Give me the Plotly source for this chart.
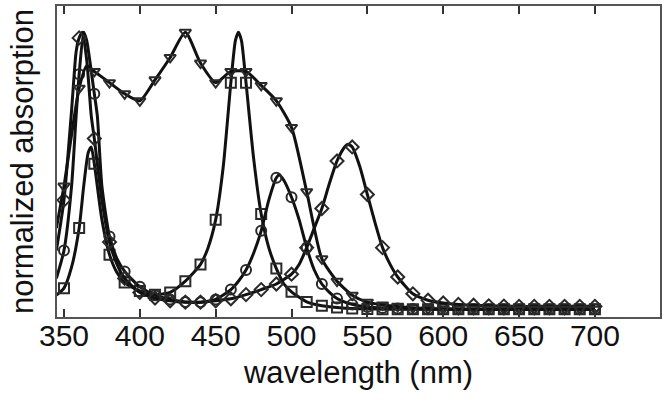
import plotly.graph_objects as go

# ---- data ----
sq_wl = [345, 350, 355, 360, 363, 366, 368, 370, 375, 380, 385, 390, 400, 410, 420, 430, 440, 445, 450, 455, 460, 463, 465, 467, 470, 475, 480, 485, 490, 495, 500, 510, 520, 530, 540, 550, 560, 570, 580, 590, 600, 610, 620, 630, 640, 650, 660, 670, 680, 690, 700]
sq_val = [0.06, 0.085, 0.16, 0.30, 0.45, 0.57, 0.59, 0.53, 0.33, 0.205, 0.14, 0.105, 0.075, 0.062, 0.07, 0.11, 0.17, 0.23, 0.33, 0.52, 0.82, 0.97, 1.0, 0.97, 0.82, 0.55, 0.35, 0.23, 0.155, 0.10, 0.072, 0.036, 0.022, 0.016, 0.012, 0.011, 0.01, 0.01, 0.01, 0.01, 0.01, 0.01, 0.01, 0.01, 0.01, 0.01, 0.01, 0.01, 0.01, 0.01, 0.01]

ci_wl = [345, 350, 355, 358, 360, 363, 365, 368, 370, 372, 375, 380, 385, 390, 400, 410, 420, 430, 440, 450, 460, 465, 470, 475, 480, 485, 490, 492, 495, 500, 505, 510, 515, 520, 525, 530, 540, 550, 560, 570, 580, 590, 600, 610, 620, 630, 640, 650, 660, 670, 680, 690, 700]
ci_val = [0.12, 0.22, 0.45, 0.70, 0.85, 1.0, 0.97, 0.86, 0.78, 0.70, 0.45, 0.27, 0.19, 0.145, 0.09, 0.06, 0.045, 0.036, 0.035, 0.045, 0.08, 0.11, 0.15, 0.21, 0.29, 0.40, 0.48, 0.49, 0.47, 0.41, 0.33, 0.23, 0.15, 0.10, 0.07, 0.048, 0.027, 0.018, 0.014, 0.012, 0.011, 0.01, 0.01, 0.01, 0.01, 0.01, 0.01, 0.01, 0.01, 0.01, 0.01, 0.01, 0.01]

di_wl = [345, 350, 355, 358, 360, 362, 365, 368, 370, 375, 380, 385, 390, 400, 410, 420, 430, 440, 450, 460, 470, 480, 490, 500, 505, 510, 515, 520, 525, 530, 535, 537, 540, 545, 550, 555, 560, 565, 570, 580, 590, 600, 610, 620, 630, 640, 650, 660, 670, 680, 690, 700]
di_val = [0.22, 0.40, 0.72, 0.93, 0.98, 1.0, 0.90, 0.70, 0.62, 0.40, 0.25, 0.17, 0.12, 0.07, 0.05, 0.04, 0.035, 0.035, 0.04, 0.047, 0.062, 0.08, 0.10, 0.135, 0.17, 0.23, 0.30, 0.37, 0.46, 0.54, 0.59, 0.60, 0.59, 0.52, 0.42, 0.32, 0.23, 0.17, 0.125, 0.065, 0.042, 0.032, 0.027, 0.024, 0.022, 0.021, 0.02, 0.02, 0.02, 0.02, 0.02, 0.02, 0.02]

tr_wl = [345, 350, 360, 365, 370, 380, 390, 400, 410, 420, 430, 440, 450, 460, 470, 480, 490, 500, 510, 520, 530, 540, 550, 560, 570, 580, 590, 600, 610, 620, 630, 640, 650, 660, 670, 680, 690, 700]
tr_val = [0.30, 0.45, 0.80, 0.88, 0.86, 0.82, 0.78, 0.755, 0.83, 0.91, 1.0, 0.89, 0.82, 0.86, 0.86, 0.81, 0.755, 0.66, 0.43, 0.19, 0.11, 0.06, 0.035, 0.025, 0.02, 0.015, 0.012, 0.011, 0.01, 0.01, 0.01, 0.01, 0.01, 0.01, 0.01, 0.01, 0.01, 0.01]

x_ticks = [350, 400, 450, 500, 550, 600, 650, 700]

series = [
    (sq_wl, sq_val, "square-open"),
    (ci_wl, ci_val, "circle-open"),
    (di_wl, di_val, "diamond-open"),
    (tr_wl, tr_val, "triangle-down-open"),
]

fig = go.Figure()
for wl, val, sym in series:
    fig.add_trace(go.Scatter(
        x=wl, y=val, mode="lines",
        line=dict(color="#111111", width=3, shape="spline", smoothing=0.6),
        showlegend=False, hoverinfo="skip"))
    mx = [w for w in wl if w % 10 == 0]
    my = [v for w, v in zip(wl, val) if w % 10 == 0]
    fig.add_trace(go.Scatter(
        x=mx, y=my, mode="markers",
        marker=dict(symbol=sym, size=10, color="#2a2a2a", line=dict(width=2, color="#2a2a2a")),
        showlegend=False))

font = "Liberation Sans, Arial, Helvetica, sans-serif"
fig.update_layout(
    width=664, height=405,
    margin=dict(l=57, r=4, t=6, b=88),
    paper_bgcolor="white", plot_bgcolor="white",
    font=dict(family=font, size=30, color="#111111"),
)
fig.update_xaxes(
    range=[345.4, 742.9], tickvals=x_ticks, ticktext=[str(t) for t in x_ticks],
    ticks="inside", ticklen=8, tickwidth=1.5, tickcolor="#333333",
    showline=True, linecolor="#555555", linewidth=2, mirror="ticks",
    showgrid=False, zeroline=False, automargin=False,
    ticklabelstandoff=-9,
    title=dict(text="wavelength (nm)", font=dict(size=31), standoff=10),
    tickfont=dict(size=30),
)
fig.update_yaxes(
    range=[-0.018, 1.094], showticklabels=False, ticks="",
    showline=True, linecolor="#555555", linewidth=2, mirror=True,
    showgrid=False, zeroline=False, automargin=False,
    title=dict(text="normalized absorption", font=dict(size=31), standoff=12),
)
fig.write_html("out.html", config={"displayModeBar": False},
               post_script="document.body.style.margin='0';")
